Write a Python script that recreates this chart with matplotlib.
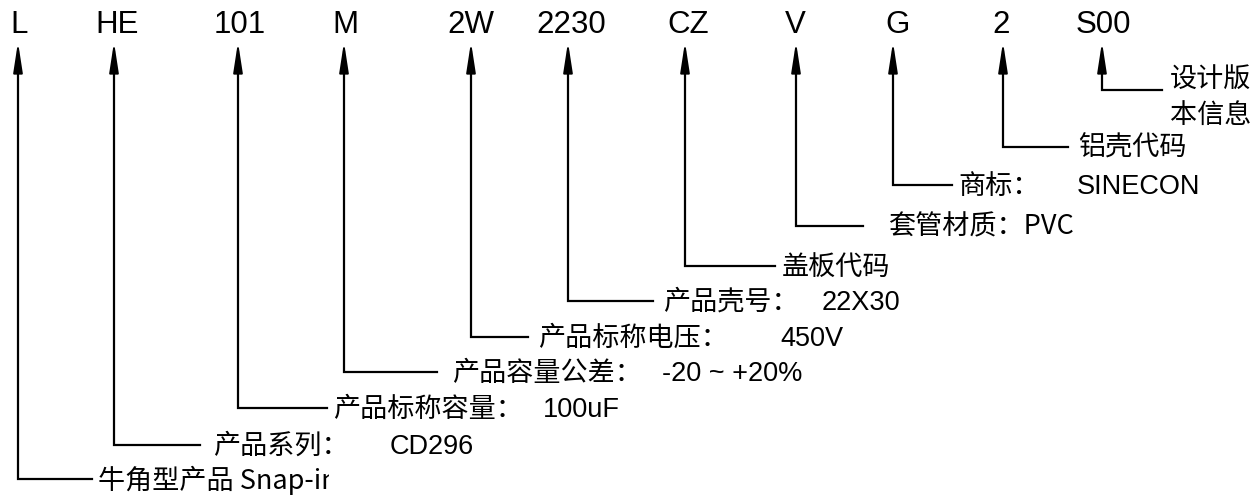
import matplotlib
matplotlib.use('Agg')
import matplotlib.pyplot as plt
from matplotlib.patches import Rectangle

plt.rcParams['font.family'] = ['Noto Sans CJK SC', 'DejaVu Sans']

# part-number segments, left to right
codes = ['L', 'HE', '101', 'M', '2W', '2230', 'CZ', 'V', 'G', '2', 'S00']
labels = ['牛角型产品 Snap-in', '产品系列：', '产品标称容量：', '产品容量公差：',
          '产品标称电压：', '产品壳号：', '盖板代码', '套管材质：PVC', '商标：',
          '铝壳代码', '设计版\n本信息']
values = ['', 'CD296', '100uF', '-20 ~ +20%', '450V', '22X30', '', '', 'SINECON', '', '']

# layout in pixels (y grows downward)
code_x = [19, 117, 240, 345, 471, 571, 688, 795, 898, 1001, 1103]
arrow_x = [18, 114, 238, 344, 471, 568, 685, 796, 893, 1003, 1102]
elbow_y = [479, 445, 408, 372, 337, 301, 266, 226, 185, 147, 90]
elbow_end = [92, 200, 327, 437, 528, 653, 775, 863, 952, 1068, 1162]
label_x = [98, 213, 333, 452, 538, 663, 782, 888, 958, 1078, 1170]
value_x = [0, 390, 543, 662, 780, 822, 0, 0, 1077, 0, 0]
code_y = 25
tip_y = 42

fig = plt.figure(figsize=(12.56, 4.97), dpi=100)
ax = fig.add_axes([0, 0, 1, 1])
ax.set_xlim(0, 1256)
ax.set_ylim(497, 0)
ax.axis('off')

for i, code in enumerate(codes):
    ax.text(code_x[i], code_y, code, ha='center', va='center',
            family='Liberation Sans', fontsize=22.5, color='black')

    x = arrow_x[i]
    y = elbow_y[i]
    # elbow: horizontal stub plus vertical up to the arrow
    ax.plot([elbow_end[i], x, x], [y, y, tip_y + 10], color='black', lw=1.6,
            solid_joinstyle='miter')
    ax.annotate('', xy=(x, tip_y), xytext=(x, tip_y + 30),
                arrowprops=dict(arrowstyle='-|>,head_length=1.3,head_width=0.2',
                                color='black', lw=1.4, mutation_scale=14,
                                shrinkA=0, shrinkB=0))

    lab = labels[i]
    if '\n' in lab:
        top, bottom = lab.split('\n')
        ax.text(label_x[i], y - 10, top, ha='left', va='center', fontsize=19.5)
        ax.text(label_x[i], y + 25, bottom, ha='left', va='center', fontsize=19.5)
    else:
        t = ax.text(label_x[i], y + 1, lab, ha='left', va='center', fontsize=19.5)
        if i == 0:
            # the first label is cut off in the source picture
            t.set_clip_on(True)
            t.set_clip_path(Rectangle((0, 0), 329, 497, transform=ax.transData))

    if values[i]:
        ax.text(value_x[i], y + 2, values[i], ha='left', va='center',
                family='Liberation Sans', fontsize=19.5)

fig.savefig('out.png', dpi=100)
